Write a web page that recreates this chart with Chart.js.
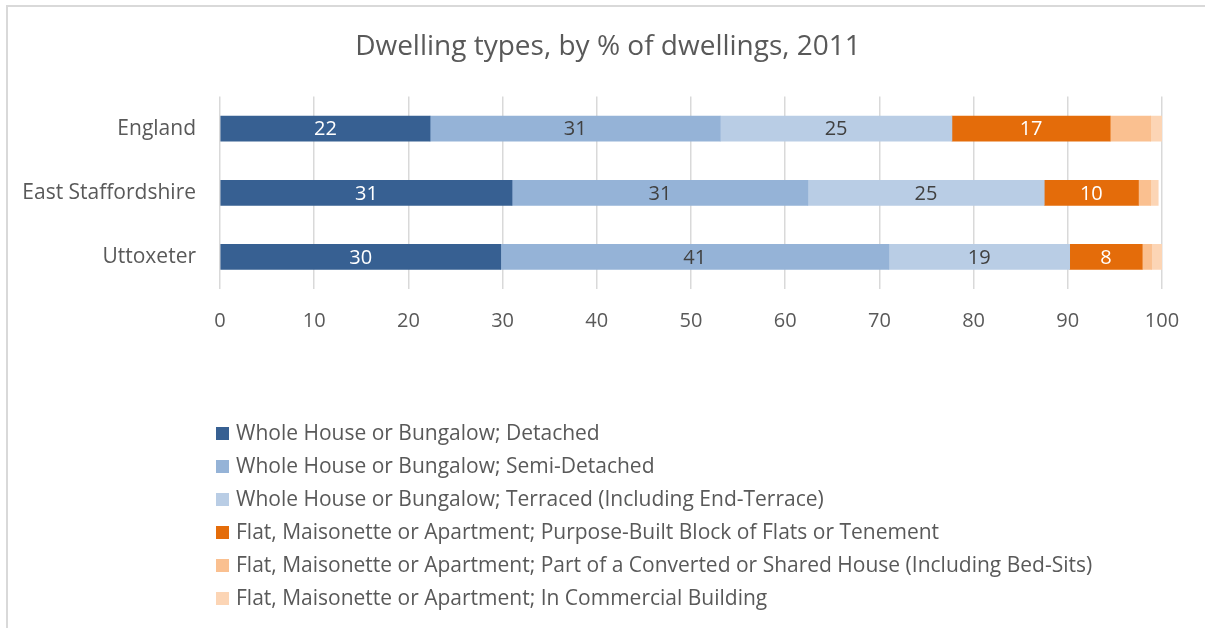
<!DOCTYPE html>
<html>
<head>
<meta charset="utf-8">
<script src="https://cdn.jsdelivr.net/npm/chart.js@4.4.0/dist/chart.umd.min.js"></script>
<style>
  html, body { margin: 0; padding: 0; background: #fff; overflow: hidden; }
  #frame {
    position: absolute; left: 6px; top: 5px; width: 1240px; height: 660px;
    border: 2px solid #d9d9d9; box-sizing: border-box;
  }
  #wrap { position: absolute; left: 0; top: 0; width: 1205px; height: 628px; }
  #legend {
    position: absolute; left: 216px; top: 420px; margin: 0; padding: 0; list-style: none;
    font-family: "Open Sans", sans-serif; font-size: 21px; color: #595959;
  }
  #legend li { height: 33px; line-height: 24px; white-space: nowrap; }
  #legend span.box {
    display: inline-block; width: 13px; height: 13px; margin-right: 7px; vertical-align: 0px;
  }
</style>
</head>
<body>
<div id="frame"></div>
<div id="wrap"><canvas id="dwellChart" width="1205" height="628"></canvas></div>
<ul id="legend"></ul>
<script>
var areas = ['England', 'East Staffordshire', 'Uttoxeter'];
var xTicks = [0, 10, 20, 30, 40, 50, 60, 70, 80, 90, 100];

var seriesNames = [
  'Whole House or Bungalow; Detached',
  'Whole House or Bungalow; Semi-Detached',
  'Whole House or Bungalow; Terraced (Including End-Terrace)',
  'Flat, Maisonette or Apartment; Purpose-Built Block of Flats or Tenement',
  'Flat, Maisonette or Apartment; Part of a Converted or Shared House (Including Bed-Sits)',
  'Flat, Maisonette or Apartment; In Commercial Building'
];

var detached     = [22.3, 31.0, 29.8];
var semiDetached = [30.8, 31.4, 41.2];
var terraced     = [24.6, 25.1, 19.2];
var purposeBuilt = [16.8, 10.0, 7.7];
var converted    = [4.3, 1.3, 1.0];
var commercial   = [1.2, 0.8, 1.1];

var colours = ['#376092', '#95b3d7', '#b9cde5', '#e46c0a', '#fac090', '#fcd5b5'];
var labelColours = ['#ffffff', '#404040', '#404040', '#ffffff', null, null];

var seriesValues = [detached, semiDetached, terraced, purposeBuilt, converted, commercial];

var FONT = '"Open Sans", sans-serif';

// values written inside the first four segments of each bar
var barLabels = {
  id: 'barLabels',
  afterDatasetsDraw: function(chart) {
    var ctx = chart.ctx;
    ctx.save();
    ctx.font = '20px ' + FONT;
    ctx.textAlign = 'center';
    ctx.textBaseline = 'middle';
    chart.data.datasets.forEach(function(ds, i) {
      if (!labelColours[i]) return;
      var meta = chart.getDatasetMeta(i);
      ctx.fillStyle = labelColours[i];
      meta.data.forEach(function(bar, j) {
        var p = bar.getCenterPoint();
        ctx.fillText(Math.round(ds.data[j]), p.x, p.y + 1);
      });
    });
    ctx.restore();
  }
};

// shift the title box so it centres a little right of the canvas middle
var titleShift = {
  id: 'titleShift',
  afterLayout: function(chart) {
    chart.titleBlock.left += 54;
  }
};

var ctx = document.getElementById('dwellChart').getContext('2d');
var chart = new Chart(ctx, {
  type: 'bar',
  data: {
    labels: areas,
    datasets: seriesNames.map(function(name, i) {
      return {
        label: name,
        data: seriesValues[i],
        backgroundColor: colours[i],
        borderWidth: 0,
        barThickness: 25
      };
    })
  },
  options: {
    indexAxis: 'y',
    responsive: false,
    animation: false,
    layout: { padding: { left: 0, right: 43, top: 0, bottom: 0 } },
    plugins: {
      legend: { display: false },
      tooltip: { enabled: false },
      title: {
        display: true,
        text: 'Dwelling types, by % of dwellings, 2011',
        color: '#595959',
        font: { family: FONT, size: 28, weight: 'normal', lineHeight: 1.2 },
        padding: { top: 30, bottom: 33 }
      }
    },
    scales: {
      x: {
        stacked: true,
        min: 0,
        max: 100,
        afterBuildTicks: function(scale) {
          scale.ticks = xTicks.map(function(v) { return { value: v }; });
        },
        afterFit: function(scale) { scale.height = 339; },
        grid: { color: '#d9d9d9', lineWidth: 1.5, drawTicks: false },
        border: { display: false },
        ticks: {
          color: '#595959',
          padding: 20,
          font: { family: FONT, size: 20 }
        }
      },
      y: {
        stacked: true,
        afterFit: function(scale) { scale.width = 220; },
        grid: { display: false, drawTicks: false },
        border: { display: false },
        ticks: {
          color: '#595959',
          padding: 24,
          font: { family: FONT, size: 21 }
        }
      }
    }
  },
  plugins: [barLabels, titleShift]
});

// vertical legend under the plot, built from the chart's datasets
var legendEl = document.getElementById('legend');
chart.data.datasets.forEach(function(ds) {
  var li = document.createElement('li');
  var box = document.createElement('span');
  box.className = 'box';
  box.style.background = ds.backgroundColor;
  li.appendChild(box);
  li.appendChild(document.createTextNode(ds.label));
  legendEl.appendChild(li);
});
</script>
</body>
</html>
